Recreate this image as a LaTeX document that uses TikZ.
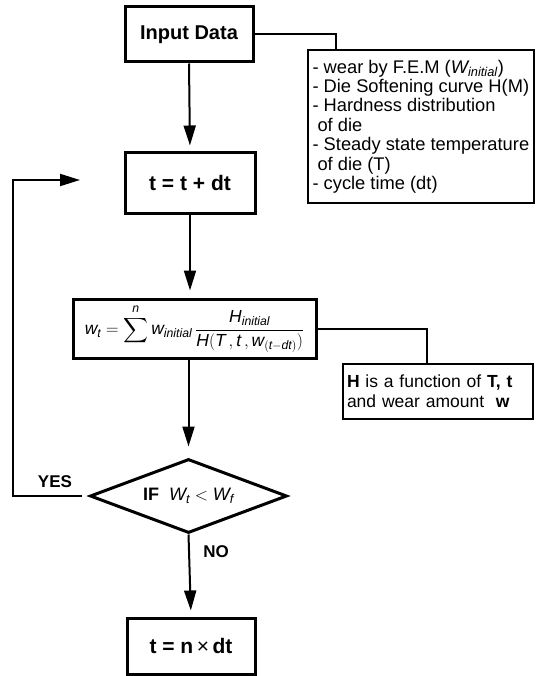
\documentclass[tikz,border=0pt]{standalone}
\usepackage{amsmath}
\usepackage{fontspec}
\setmainfont{Liberation Sans}
\usetikzlibrary{arrows.meta,shapes.geometric}
\newcommand{\fsz}[2]{\fontsize{#1}{#2}\selectfont}
\newcommand{\vi}[1]{\textit{#1}}
\begin{document}
\begin{tikzpicture}[x=1pt,y=-1pt,
  thickbox/.style={draw,line width=3pt,inner sep=0pt,align=center},
  conn/.style={line width=2pt},
  arr/.style={line width=2pt,-{Triangle[length=20pt,width=12pt]}},
  lbl/.style={font=\fsz{17}{19}\bfseries,inner sep=0pt}
]
\useasboundingbox (0,0) rectangle (537,676);

% nodes
\node[thickbox,minimum width=128,minimum height=55,font=\fsz{20}{22}\bfseries] (inp) at (189,34.5) {Input Data};
\node[draw,line width=1.3pt,inner sep=0pt,minimum width=226,minimum height=153] (list) at (421,126.5) {};
\node[anchor=west,inner sep=0pt,align=left,font=\fsz{18.3}{19.4}] (listtxt) at ([xshift=5pt]list.west)
 {- wear by F.E.M ($\vi{W}_{\vi{initial}}$)\\
  - Die Softening curve H(M)\\
  - Hardness distribution\\
  \hspace*{5pt}of die\\
  - Steady state temperature\\
  \hspace*{5pt}of die (T)\\
  - cycle time (dt)};
\node[thickbox,minimum width=130,minimum height=60,font=\fsz{21}{22}\bfseries] (tbox) at (190,183) {t = t + dt};
\node[thickbox,minimum width=243,minimum height=59,font=\fsz{17.5}{19}] (form) at (194.5,328.5)
 {$\displaystyle \vi{w}_{\vi{t}} = \sum^{\vi{n}} \vi{w}_{\vi{initial}}\,\frac{\vi{H}_{\vi{initial}}}{\vi{H}(\vi{T}\,,\vi{t}\,,\vi{w}_{(\vi{t}-\vi{dt})})}$};
\node[draw,line width=2pt,minimum width=190,minimum height=55,text width=182,align=left,inner sep=4pt,font=\fsz{17.5}{20}] (hbox) at (438,391.5)
 {\textbf{H} is a function of \textbf{T, t}\\ and wear amount\ \ \textbf{w}};
\node[draw,diamond,line width=3pt,minimum width=197,minimum height=74,aspect=2.66,inner sep=0pt,font=\fsz{18}{20}] (dia) at (188.5,496)
 {\textbf{IF}\ \ $\vi{W}_{\vi{t}} < \vi{W}_{\vi{f}}$};
\node[thickbox,minimum width=128,minimum height=56,font=\fsz{21}{22}\bfseries] (bot) at (191,646) {t = n\,{\mdseries ×}\,dt};

\node[lbl] (yes) at (55,482) {YES};
\node[lbl] (no) at (216,552) {NO};

\coordinate (fbc) at (13,180);
\coordinate (fb) at (80,180);

% connectors
\draw[arr,shorten >=6pt] (inp.south) -- (tbox.north);
\draw[conn] (inp.east) -| ([xshift=29pt]list.north west);
\draw[arr,shorten >=7pt] (tbox.south) -- (tbox.south |- form.north);
\draw[conn] (form.east) -| ([xshift=85pt]hbox.north west);
\draw[arr,shorten >=11pt] (dia.north |- form.south) -- (dia.north);
\draw[arr,shorten >=6pt] (dia.south) -- (bot.north);
\draw[arr,shorten <=7pt] (dia.west) -| (fbc) -- (fb);
\end{tikzpicture}
\end{document}
